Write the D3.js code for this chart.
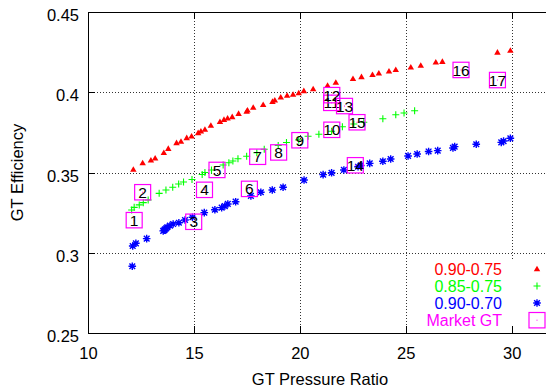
<!DOCTYPE html>
<html lang="en">
<head>
<meta charset="utf-8">
<title>GT Efficiency vs Pressure Ratio</title>
<script src="https://d3js.org/d3.v7.min.js"></script>
<style>
  body { margin: 0; background: #fff; }
  svg { display: block; font-family: "Liberation Sans", Arial, sans-serif; }
  .grid line { stroke: #333; stroke-dasharray: 1,2; shape-rendering: crispEdges; }
  .axis path { display: none; }
  .axis line { stroke: #000; shape-rendering: crispEdges; }
  .axis text { font-size: 16.5px; fill: #000; }
</style>
</head>
<body>
<svg id="chart" width="546" height="389"></svg>
<script>
// --- data ---
var redX = [12.14, 12.58, 12.97, 13.17, 13.58, 13.79, 14.18, 14.39, 14.66, 14.89, 15.20, 15.33, 15.52, 15.80,
            16.23, 16.42, 16.59, 16.81, 17.11, 17.49, 17.53, 17.80, 18.27, 18.71, 18.82, 19.10, 19.40, 19.68,
            19.95, 20.19, 20.63, 21.31, 21.70, 22.51, 22.91, 23.43, 23.73, 24.21, 24.53, 25.24, 25.71, 26.42,
            26.73, 29.33, 29.94];
var redY = [0.3516, 0.3557, 0.3574, 0.3586, 0.3620, 0.3646, 0.3682, 0.3690, 0.3713, 0.3723, 0.3744, 0.3754,
            0.3765, 0.3790, 0.3813, 0.3827, 0.3835, 0.3844, 0.3864, 0.3877, 0.3885, 0.3902, 0.3919, 0.3939,
            0.3947, 0.3966, 0.3977, 0.3983, 0.3993, 0.4006, 0.4018, 0.4039, 0.4058, 0.4081, 0.4093, 0.4106,
            0.4116, 0.4128, 0.4137, 0.4153, 0.4164, 0.4184, 0.4188, 0.4246, 0.4257];

var greenX = [12.06, 12.18, 12.42, 12.61, 12.84, 13.36, 13.68, 14.00, 14.28, 14.51, 14.91, 15.39, 15.52, 15.83,
              16.38, 16.65, 16.84, 17.08, 17.49, 17.97, 18.32, 18.98, 19.37, 19.95, 20.39, 20.90, 21.50, 22.01,
              22.55, 23.02, 23.92, 24.53, 24.92, 25.42];
var greenY = [0.3266, 0.3283, 0.3298, 0.3312, 0.3329, 0.3370, 0.3391, 0.3408, 0.3428, 0.3441, 0.3456, 0.3488,
              0.3500, 0.3516, 0.3547, 0.3561, 0.3572, 0.3586, 0.3601, 0.3623, 0.3645, 0.3668, 0.3687, 0.3703,
              0.3726, 0.3738, 0.3757, 0.3785, 0.3802, 0.3813, 0.3835, 0.3860, 0.3871, 0.3885];

var blueX = [12.09, 12.11, 12.26, 12.77, 13.55, 13.60, 13.63, 13.69, 13.74, 13.87, 14.02, 14.29, 14.58, 14.93,
             15.49, 15.99, 16.31, 16.46, 16.60, 16.97, 17.69, 18.16, 18.70, 19.21, 20.20, 21.10, 21.50, 22.08,
             22.75, 22.88, 23.30, 23.92, 24.29, 25.11, 25.54, 26.08, 26.51, 27.23, 27.31, 28.33, 29.51, 29.62,
             29.94];
var blueY = [0.2916, 0.3042, 0.3059, 0.3088, 0.3136, 0.3140, 0.3146, 0.3152, 0.3159, 0.3169, 0.3179, 0.3187,
             0.3204, 0.3221, 0.3250, 0.3268, 0.3281, 0.3291, 0.3304, 0.3318, 0.3354, 0.3377, 0.3391, 0.3408,
             0.3453, 0.3487, 0.3498, 0.3516, 0.3536, 0.3544, 0.3557, 0.3570, 0.3584, 0.3603, 0.3615, 0.3631,
             0.3636, 0.3653, 0.3661, 0.3676, 0.3688, 0.3696, 0.3713];

// market gas turbines, numbered 1..17
var marketLabels = ["1", "2", "3", "4", "5", "6", "7", "8", "9", "10", "11", "12", "13", "14", "15", "16", "17"];
var marketX = [12.18, 12.58, 14.99, 15.50, 16.09, 17.62, 18.01, 19.00, 20.00, 21.51, 21.50, 21.51, 22.11,
               22.62, 22.70, 27.61, 29.33];
var marketY = [0.3203, 0.3377, 0.3193, 0.3392, 0.3516, 0.3398, 0.3598, 0.3625, 0.3701, 0.3766, 0.3934, 0.3982,
               0.3914, 0.3545, 0.3813, 0.4139, 0.4076];

var seriesNames = ["0.90-0.75", "0.85-0.75", "0.90-0.70", "Market GT"];
var xTicks = [10, 15, 20, 25, 30];
var xTickLabels = ["10", "15", "20", "25", "30"];
var yTicks = [0.25, 0.3, 0.35, 0.4, 0.45];
var yTickLabels = ["0.25", "0.3", "0.35", "0.4", "0.45"];

var svg = d3.select("#chart");
var pLeft = 88, pTop = 12, pBottom = 333, pRight = 554;

var x = d3.scaleLinear().domain([10, 32]).range([pLeft, pRight]);
var y = d3.scaleLinear().domain([0.25, 0.45]).range([pBottom, pTop]);

function pts(xs, ys) { return xs.map(function(d, i) { return [d, ys[i]]; }); }

// grid
var grid = svg.append("g").attr("class", "grid");
grid.selectAll(".gx").data(xTicks.slice(1)).enter().append("line")
  .attr("x1", function(d) { return Math.round(x(d)) + 0.5; })
  .attr("x2", function(d) { return Math.round(x(d)) + 0.5; })
  .attr("y1", pTop).attr("y2", pBottom);
grid.selectAll(".gy").data(yTicks.slice(1, -1)).enter().append("line")
  .attr("y1", function(d) { return Math.round(y(d)) + 0.5; })
  .attr("y2", function(d) { return Math.round(y(d)) + 0.5; })
  .attr("x1", pLeft).attr("x2", pRight);

// opaque key background
svg.append("rect").attr("x", 420).attr("y", 259).attr("width", 130).attr("height", 72).attr("fill", "#fff");

// frame
svg.append("rect").attr("x", pLeft + 0.5).attr("y", pTop + 0.5)
  .attr("width", pRight - pLeft).attr("height", pBottom - pTop)
  .attr("fill", "none").attr("stroke", "#000").attr("shape-rendering", "crispEdges");

// axes (gnuplot style inward ticks)
svg.append("g").attr("class", "axis").attr("transform", "translate(0," + pBottom + ")")
  .call(d3.axisBottom(x).tickValues(xTicks).tickSize(-7).tickPadding(14)
    .tickFormat(function(d, i) { return xTickLabels[i]; }));
svg.append("g").attr("class", "axis").attr("transform", "translate(0," + pTop + ")")
  .call(d3.axisTop(x).tickValues(xTicks).tickSize(-7).tickFormat(""));
var yAxis = svg.append("g").attr("class", "axis").attr("transform", "translate(" + pLeft + ",0)")
  .call(d3.axisLeft(y).tickValues(yTicks).tickSize(-7).tickPadding(9)
    .tickFormat(function(d, i) { return yTickLabels[i]; }));
yAxis.selectAll("text").attr("dy", "0.52em");

// axis titles
svg.append("text").attr("x", 320).attr("y", 385).attr("text-anchor", "middle")
  .style("font-size", "16.5px").text("GT Pressure Ratio");
svg.append("text").attr("transform", "translate(23," + ((pTop + pBottom) / 2) + ") rotate(-90)")
  .attr("text-anchor", "middle").style("font-size", "16.5px").text("GT Efficiency");

// markers
var tri = d3.symbol().type(d3.symbolTriangle).size(18);
function plusPath(s) { return "M" + (-s) + ",0H" + s + "M0," + (-s) + "V" + s; }
function starPath(s) {
  var d = s * 0.75;
  return plusPath(s) + "M" + (-d) + "," + (-d) + "L" + d + "," + d + "M" + (-d) + "," + d + "L" + d + "," + (-d);
}

var plot = svg.append("g");
plot.selectAll(".red").data(pts(redX, redY)).enter().append("path")
  .attr("d", tri).attr("fill", "#ff0000")
  .attr("transform", function(d) { return "translate(" + x(d[0]) + "," + y(d[1]) + ")"; });
plot.selectAll(".green").data(pts(greenX, greenY)).enter().append("path")
  .attr("d", plusPath(3.5)).attr("fill", "none").attr("stroke", "#00ff00").attr("stroke-width", 1.1)
  .attr("transform", function(d) { return "translate(" + x(d[0]) + "," + y(d[1]) + ")"; });
plot.selectAll(".blue").data(pts(blueX, blueY)).enter().append("path")
  .attr("d", starPath(3.8)).attr("fill", "none").attr("stroke", "#0000ff").attr("stroke-width", 1.4)
  .attr("transform", function(d) { return "translate(" + x(d[0]) + "," + y(d[1]) + ")"; });

// market GT boxes with numbers
var mk = plot.selectAll(".mk").data(pts(marketX, marketY)).enter().append("g")
  .attr("transform", function(d) { return "translate(" + x(d[0]) + "," + y(d[1]) + ")"; });
mk.append("rect").attr("x", -8).attr("y", -7.7).attr("width", 16).attr("height", 15.4)
  .attr("fill", "none").attr("stroke", "#ff00ff").attr("stroke-width", 1.2);
mk.append("rect").attr("x", -0.5).attr("y", -0.5).attr("width", 1).attr("height", 1).attr("fill", "#ff00ff");
mk.append("text").attr("text-anchor", "middle").attr("y", 5.6)
  .style("font-size", "15.5px").attr("fill", "#000")
  .text(function(d, i) { return marketLabels[i]; });

// key
var keyColors = ["#ff0000", "#00ff00", "#0000ff", "#ff00ff"];
var keyY = [274.5, 291.5, 308.5, 325.5];
var key = svg.append("g");
key.selectAll("text").data(seriesNames).enter().append("text")
  .attr("x", 502).attr("y", function(d, i) { return keyY[i]; })
  .attr("text-anchor", "end").style("font-size", "16px")
  .attr("fill", function(d, i) { return keyColors[i]; })
  .text(function(d) { return d; });
var kx = 537;
key.append("path").attr("d", tri).attr("fill", keyColors[0])
  .attr("transform", "translate(" + kx + "," + (keyY[0] - 5) + ")");
key.append("path").attr("d", plusPath(3.5)).attr("stroke", keyColors[1]).attr("stroke-width", 1.1)
  .attr("transform", "translate(" + kx + "," + (keyY[1] - 5.5) + ")");
key.append("path").attr("d", starPath(3.8)).attr("stroke", keyColors[2]).attr("stroke-width", 1.4)
  .attr("transform", "translate(" + kx + "," + (keyY[2] - 5.5) + ")");
key.append("rect").attr("x", kx - 8).attr("y", keyY[3] - 13).attr("width", 16).attr("height", 15.4)
  .attr("fill", "none").attr("stroke", keyColors[3]).attr("stroke-width", 1.2);
key.append("rect").attr("x", kx - 0.5).attr("y", keyY[3] - 5.8).attr("width", 1).attr("height", 1)
  .attr("fill", keyColors[3]);
</script>
</body>
</html>
